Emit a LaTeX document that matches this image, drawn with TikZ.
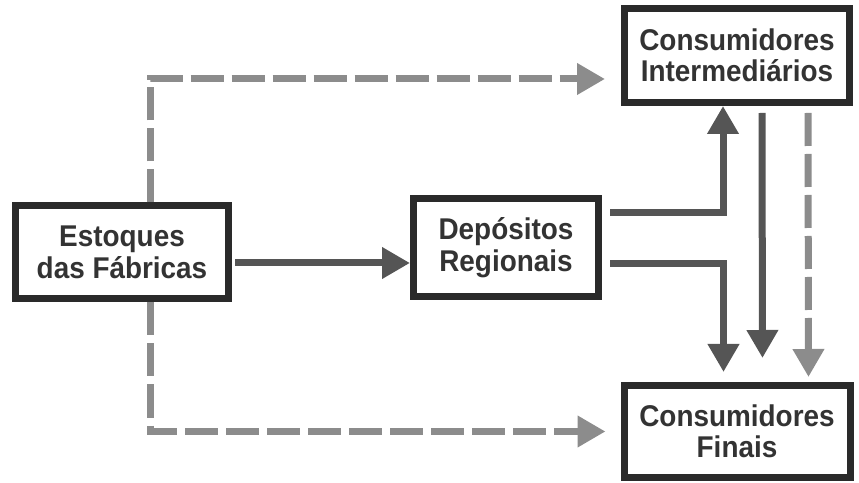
\documentclass[tikz,border=0pt]{standalone}
\usepackage{fontspec}
\setmainfont{Liberation Sans}[FakeStretch=0.93]
\usepackage{xcolor}
\usetikzlibrary{shapes,arrows.meta,positioning}
\definecolor{boxline}{HTML}{2A2A2A}
\definecolor{solidgray}{HTML}{555555}
\definecolor{dashgray}{HTML}{8C8C8C}
\definecolor{textgray}{HTML}{333333}

\begin{document}
\begin{tikzpicture}[x=1pt, y=1pt, node distance=2cm, auto]
    % Define styles
    \tikzstyle{unit} = [rectangle, minimum width=213pt, minimum height=93pt, line width=7pt, draw=boxline, fill=white, text centered, align=center, text=textgray, font=\fontsize{30}{31.5}\selectfont\bfseries]
    \tikzstyle{flow} = [line width=7pt, draw=solidgray, -{Triangle[width=30pt, length=28pt]}]
    \tikzstyle{altflow} = [line width=7pt, draw=dashgray, dash pattern=on 33pt off 8pt, -{Triangle[width=30pt, length=28pt]}]

    \useasboundingbox (0,0) rectangle (859,482);

    % Nodes
    \node[unit] (stock) at (122,229.5) {Estoques\\das Fábricas};
    \node[unit, right=178pt of stock, yshift=5pt, minimum width=185pt, minimum height=98pt] (depot) {Depósitos\\Regionais};
    \node[unit, minimum width=225pt, minimum height=94pt] (inter) at (737,426.5) {Consumidores\\Intermediários};
    \node[unit, below=276pt of inter, minimum width=226pt, minimum height=92pt] (final) {Consumidores\\Finais};

    % Connections
    \draw[flow, shorten <=3pt] ([yshift=-10.5pt]stock.east) -- ([yshift=-15.5pt]depot.west);
    \draw[altflow, shorten >=16pt] ([xshift=28pt]stock.north) |- ([yshift=-23.5pt]inter.west);
    \draw[altflow, shorten >=15pt] ([xshift=28pt]stock.south) |- (final.west);
    \draw[flow, shorten <=8pt] ([yshift=34.5pt]depot.east) -| ([xshift=-14pt]inter.south);
    \draw[flow, shorten <=8pt, shorten >=10pt] ([yshift=-16.5pt]depot.east) -| ([xshift=-13.5pt]final.north);
    \draw[flow, shorten <=7pt, shorten >=24pt] ([xshift=25pt]inter.south) -- ([xshift=25.5pt]final.north);
    \draw[altflow, shorten <=7pt, shorten >=5pt] ([xshift=71pt]inter.south) -- ([xshift=71.5pt]final.north);
\end{tikzpicture}
\end{document}
